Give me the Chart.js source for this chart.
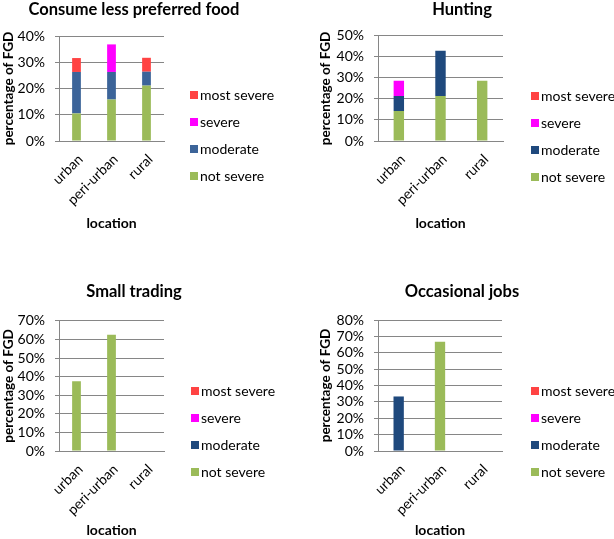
<!DOCTYPE html>
<html>
<head>
<meta charset="utf-8">
<script src="https://cdn.jsdelivr.net/npm/chart.js@4.4.1/dist/chart.umd.min.js"></script>
<style>
  html, body { margin: 0; padding: 0; background: #fff; overflow: hidden; }
  #wrap { position: relative; width: 614px; height: 539px; overflow: hidden; }
  canvas { position: absolute; }
</style>
</head>
<body>
<div id="wrap">
  <canvas id="consume" width="292" height="232" style="left:-12px;top:0px"></canvas>
  <canvas id="hunting" width="304" height="232" style="left:310px;top:0px"></canvas>
  <canvas id="trading" width="292" height="257" style="left:-12px;top:282px"></canvas>
  <canvas id="jobs" width="304" height="257" style="left:310px;top:282px"></canvas>
</div>
<script>
// categories and legend entries
const locations = ["urban", "peri-urban", "rural"];
const severityLevels = ["not severe", "moderate", "severe", "most severe"];

// percentage of FGD per location, one array per severity level
const consumeNotSevere = [10.5, 15.8, 21.1];
const consumeModerate = [15.8, 10.5, 5.3];
const consumeSevere = [0, 10.5, 0];
const consumeMostSevere = [5.3, 0, 5.3];

const huntingNotSevere = [14.3, 21.4, 28.6];
const huntingModerate = [7.1, 21.5, 0];
const huntingSevere = [7.2, 0, 0];
const huntingMostSevere = [0, 0, 0];

const tradingNotSevere = [37.5, 62.5, 0];
const tradingModerate = [0, 0, 0];
const tradingSevere = [0, 0, 0];
const tradingMostSevere = [0, 0, 0];

const jobsNotSevere = [0, 66.7, 0];
const jobsModerate = [33.3, 0, 0];
const jobsSevere = [0, 0, 0];
const jobsMostSevere = [0, 0, 0];

// y axis maximum (percent) of each chart
const yMaxes = [40, 50, 70, 80];

Chart.defaults.font.family = "Lato";
Chart.defaults.color = "#000";

const gridGray = "#868686";
const green = "#9bbb59";
const red = "#ff4343";
const magenta = "#ff00ff";

/**
 * Draws the legend to the right of the plot, top entry first.
 */
const sideLegend = {
  id: "sideLegend",
  afterDraw(chart, args, opts) {
    const ctx = chart.ctx;
    const sets = chart.data.datasets.slice().reverse();
    ctx.save();
    ctx.font = "14px Lato";
    ctx.textBaseline = "middle";
    ctx.textAlign = "left";
    sets.forEach((ds, i) => {
      const y = opts.top + i * 27;
      ctx.fillStyle = ds.backgroundColor;
      ctx.fillRect(opts.x, y - 4, 8, 8);
      ctx.fillStyle = "#000";
      ctx.fillText(ds.label, opts.x + 10, y);
    });
    ctx.restore();
  },
};

function createChart(el, cfg) {
  const values = [cfg.notSevere, cfg.moderate, cfg.severe, cfg.mostSevere];
  const colors = [green, cfg.blue, magenta, red];
  const datasets = severityLevels.map((label, i) => ({
    label,
    data: values[i],
    backgroundColor: colors[i],
    categoryPercentage: 1,
    barPercentage: 0.25,
  }));
  new Chart(document.getElementById(el), {
    type: "bar",
    data: { labels: locations, datasets },
    plugins: [sideLegend],
    options: {
      responsive: false,
      animation: false,
      layout: { padding: 0 },
      plugins: {
        legend: { display: false },
        tooltip: { enabled: false },
        title: {
          display: true,
          text: cfg.title,
          color: "#000",
          font: { size: 16.5, weight: "bold" },
          padding: { top: 0, bottom: cfg.titleGap },
        },
        sideLegend: { x: cfg.legendX, top: cfg.legendTop },
      },
      scales: {
        x: {
          stacked: true,
          afterFit: (scale) => {
            scale.height = cfg.xHeight;
          },
          grid: { display: false, drawTicks: false },
          border: { display: true, color: gridGray },
          ticks: {
            minRotation: 45,
            maxRotation: 45,
            padding: 10,
            labelOffset: 4,
            font: { size: 14 },
          },
          title: {
            display: true,
            text: "location",
            font: { size: 14, weight: "bold" },
            padding: { top: 0, bottom: 0 },
          },
        },
        y: {
          stacked: true,
          min: 0,
          max: cfg.yMax,
          afterFit: (scale) => {
            scale.width = cfg.yWidth;
          },
          grid: { color: gridGray, tickLength: 4, drawTicks: true },
          border: { display: true, color: gridGray },
          ticks: {
            stepSize: 10,
            autoSkip: false,
            padding: 10,
            font: { size: 14 },
            callback: (v) => v + "%",
          },
          title: {
            display: true,
            text: "percentage of FGD",
            font: { size: 13.5, weight: "bold" },
            padding: { top: cfg.yTitleGap, bottom: 0 },
          },
        },
        // empty right-hand axis that keeps room for the legend
        legendSpace: {
          type: "linear",
          position: "right",
          afterFit: (scale) => {
            scale.width = cfg.rightWidth;
          },
          grid: { display: false },
          border: { display: false },
          ticks: { display: false },
        },
      },
    },
  });
}

createChart("consume", {
  title: "Consume less preferred food",
  notSevere: consumeNotSevere,
  moderate: consumeModerate,
  severe: consumeSevere,
  mostSevere: consumeMostSevere,
  blue: "#3c6499",
  yMax: yMaxes[0],
  titleGap: 16.2,
  xHeight: 91,
  yWidth: 71,
  yTitleGap: 12.9,
  rightWidth: 116,
  legendX: 202,
  legendTop: 95,
});

createChart("hunting", {
  title: "Hunting",
  notSevere: huntingNotSevere,
  moderate: huntingModerate,
  severe: huntingSevere,
  mostSevere: huntingMostSevere,
  blue: "#1f497d",
  yMax: yMaxes[1],
  titleGap: 16,
  xHeight: 91,
  yWidth: 68,
  yTitleGap: 8,
  rightWidth: 111,
  legendX: 221,
  legendTop: 96,
});

createChart("trading", {
  title: "Small trading",
  notSevere: tradingNotSevere,
  moderate: tradingModerate,
  severe: tradingSevere,
  mostSevere: tradingMostSevere,
  blue: "#1f497d",
  yMax: yMaxes[2],
  titleGap: 19,
  xHeight: 88,
  yWidth: 71,
  yTitleGap: 12.9,
  rightWidth: 116,
  legendX: 203,
  legendTop: 109,
});

createChart("jobs", {
  title: "Occasional jobs",
  notSevere: jobsNotSevere,
  moderate: jobsModerate,
  severe: jobsSevere,
  mostSevere: jobsMostSevere,
  blue: "#1f497d",
  yMax: yMaxes[3],
  titleGap: 18.2,
  xHeight: 88,
  yWidth: 68,
  yTitleGap: 8,
  rightWidth: 112,
  legendX: 221,
  legendTop: 109,
});
</script>
</body>
</html>
